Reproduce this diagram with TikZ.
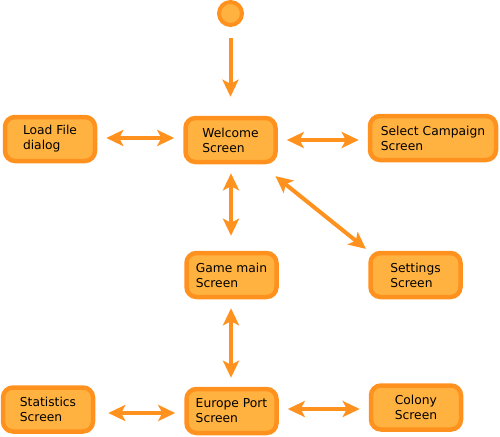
\documentclass[tikz,border=0pt]{standalone}
\usepackage{fontspec}
\setmainfont{DejaVu Sans}
\usetikzlibrary{arrows.meta}
\definecolor{boxfill}{RGB}{255,178,64}
\definecolor{boxline}{RGB}{255,146,30}

\begin{document}
\begin{tikzpicture}[x=1pt, y=-1pt,
	screen/.style={draw=boxline, fill=boxfill, line width=4.5pt, rounded corners=10pt, minimum width=90pt, minimum height=44pt, inner sep=0pt, align=left, font=\fontsize{12.3}{15}\selectfont},
	startdot/.style={circle, draw=boxline, fill=boxfill, line width=4pt, minimum size=23pt, inner sep=0pt},
	tip/.tip={Stealth[length=17pt, width=16pt, inset=4pt]},
	link/.style={draw=boxline, line width=4pt, tip-tip, shorten <=9pt, shorten >=9pt}]
\useasboundingbox (0,0) rectangle (500,436);
\node[startdot] (start) at (230.5,13.5) {};
\node[screen] (welcome) at (230.5,140) {Welcome\\Screen};
\node[screen] (load) at (50,139) {Load File\\dialog};
\node[screen, minimum width=126pt] (select) at (433,138) {Select Campaign\\Screen};
\node[screen] (settings) at (415.5,275) {Settings\\Screen};
\node[screen] (game) at (231.5,275) {Game main\\Screen};
\node[screen] (europe) at (231.5,411) {Europe Port\\Screen};
\node[screen] (stats) at (48,409.5) {Statistics\\Screen};
\node[screen] (colony) at (416,407.5) {Colony\\Screen};

\draw[link, -tip, shorten <=11pt, shorten >=19pt] (start) -- (start |- welcome.north);
\draw[link] (welcome.west |- 0,138) -- (load.east |- 0,138);
\draw[link] (welcome.east) -- (welcome.east -| select.west);
\draw[link, shorten <=19pt, shorten >=3pt] (welcome) -- (settings.north west);
\draw[link, shorten >=15pt] (welcome.south -| 231,0) -- (game.north -| 231,0);
\draw[link] (game.south -| 231,0) -- (europe.north -| 231,0);
\draw[link, shorten <=9pt, shorten >=13pt] (europe.west |- 0,413) -- (stats.east |- 0,413);
\draw[link] (europe.east |- 0,409) -- (colony.west |- 0,409);
\end{tikzpicture}
\end{document}
